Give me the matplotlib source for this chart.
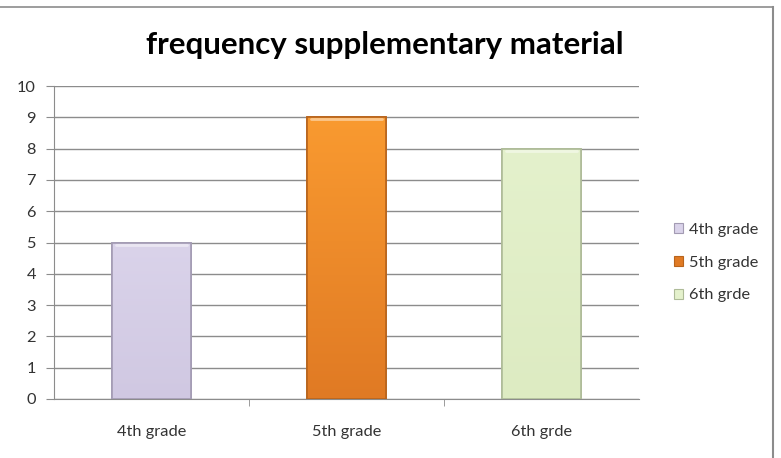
import numpy as np
import matplotlib
matplotlib.use("Agg")
import matplotlib.pyplot as plt
from matplotlib.patches import Patch
from matplotlib.lines import Line2D

categories = ["4th grade", "5th grade", "6th grde"]
values = [5, 9, 8]
series_names = ["4th grade", "5th grade", "6th grde"]
title = "frequency supplementary material"

# fill colours (top, bottom) and edge colours
top_colors = ["#DAD3EA", "#F99A30", "#E4F1CC"]
bottom_colors = ["#D0C8E2", "#E07A24", "#DDEBC2"]
edge_colors = ["#A39BB3", "#B8641C", "#AEBB98"]

plt.rcParams['font.family'] = ['Lato', 'DejaVu Sans']

fig = plt.figure(figsize=(7.81, 4.58), dpi=100)
ax = fig.add_axes([54/781, 1 - 399/458, (639 - 54)/781, (399 - 86)/458])

x = np.arange(len(categories))
bars = ax.bar(x, values, width=0.405, color=top_colors, edgecolor=edge_colors,
              linewidth=1.2, zorder=3)

# vertical gradient inside each bar
for b, c1, c2 in zip(bars, top_colors, bottom_colors):
    r1 = np.array(matplotlib.colors.to_rgb(c1))
    r2 = np.array(matplotlib.colors.to_rgb(c2))
    t = np.linspace(0, 1, 100)[:, None]
    grad = (r1 * (1 - t) + r2 * t)[:, None, :]
    x0, y0 = b.get_x(), b.get_y()
    im = ax.imshow(grad, extent=[x0, x0 + b.get_width(), y0, y0 + b.get_height()],
                   aspect='auto', zorder=3.5, origin='upper')
    im.set_clip_path(b)
    # light bevel on top
    ax.plot([x0 + 0.02, x0 + b.get_width() - 0.02], [b.get_height() - 0.07] * 2,
            color='white', alpha=0.45, lw=2, zorder=4, solid_capstyle='round')
    ax.add_patch(plt.Rectangle((x0, y0), b.get_width(), b.get_height(), fill=False,
                               edgecolor=b.get_edgecolor(), lw=1.2, zorder=5))

ax.set_xlim(-0.5, len(categories) - 0.5)
ax.set_ylim(0, 10)
ax.set_yticks(range(0, 11))
ax.yaxis.grid(True, color='#8C8C8C', lw=1.0, zorder=0)
ax.set_axisbelow(True)

ax.set_xticks(x)
ax.set_xticklabels(categories, fontsize=11.8, color='#333333')
ax.set_xticks([0.5, 1.5], minor=True)
ax.tick_params(axis='x', which='major', length=0, pad=19)
ax.tick_params(axis='x', which='minor', length=5, color='#8C8C8C', direction='out')
ax.tick_params(axis='y', length=6, color='#8C8C8C', labelsize=11.8,
               labelcolor='#333333', pad=7)

for s in ['top', 'right']:
    ax.spines[s].set_visible(False)
ax.spines['left'].set_color('#8C8C8C')
ax.spines['bottom'].set_color('#8C8C8C')

fig.text(385/781, 1 - 45/458, title, ha='center', va='center',
         fontsize=22.5, fontweight='bold', color='black')

handles = [Patch(facecolor=c, edgecolor=e, lw=0.8) for c, e in zip(top_colors, edge_colors)]
handles[1] = Patch(facecolor=bottom_colors[1], edgecolor=edge_colors[1], lw=0.8)
fig.legend(handles, series_names, loc='upper left', bbox_to_anchor=(659/781, 1 - 208/458),
           frameon=False, fontsize=11.8, handlelength=0.55, handleheight=0.55,
           handletextpad=0.4, labelspacing=1.15, labelcolor='#333333')

# chart frame (top and right edges visible)
fig.add_artist(Line2D([0, 773/781], [1 - 7/458, 1 - 7/458], color='#8C8C8C', lw=1.2,
                      transform=fig.transFigure))
fig.add_artist(Line2D([773/781, 773/781], [0, 1 - 7/458], color='#8C8C8C', lw=1.5,
                      transform=fig.transFigure))

fig.savefig("out.png", dpi=100)
